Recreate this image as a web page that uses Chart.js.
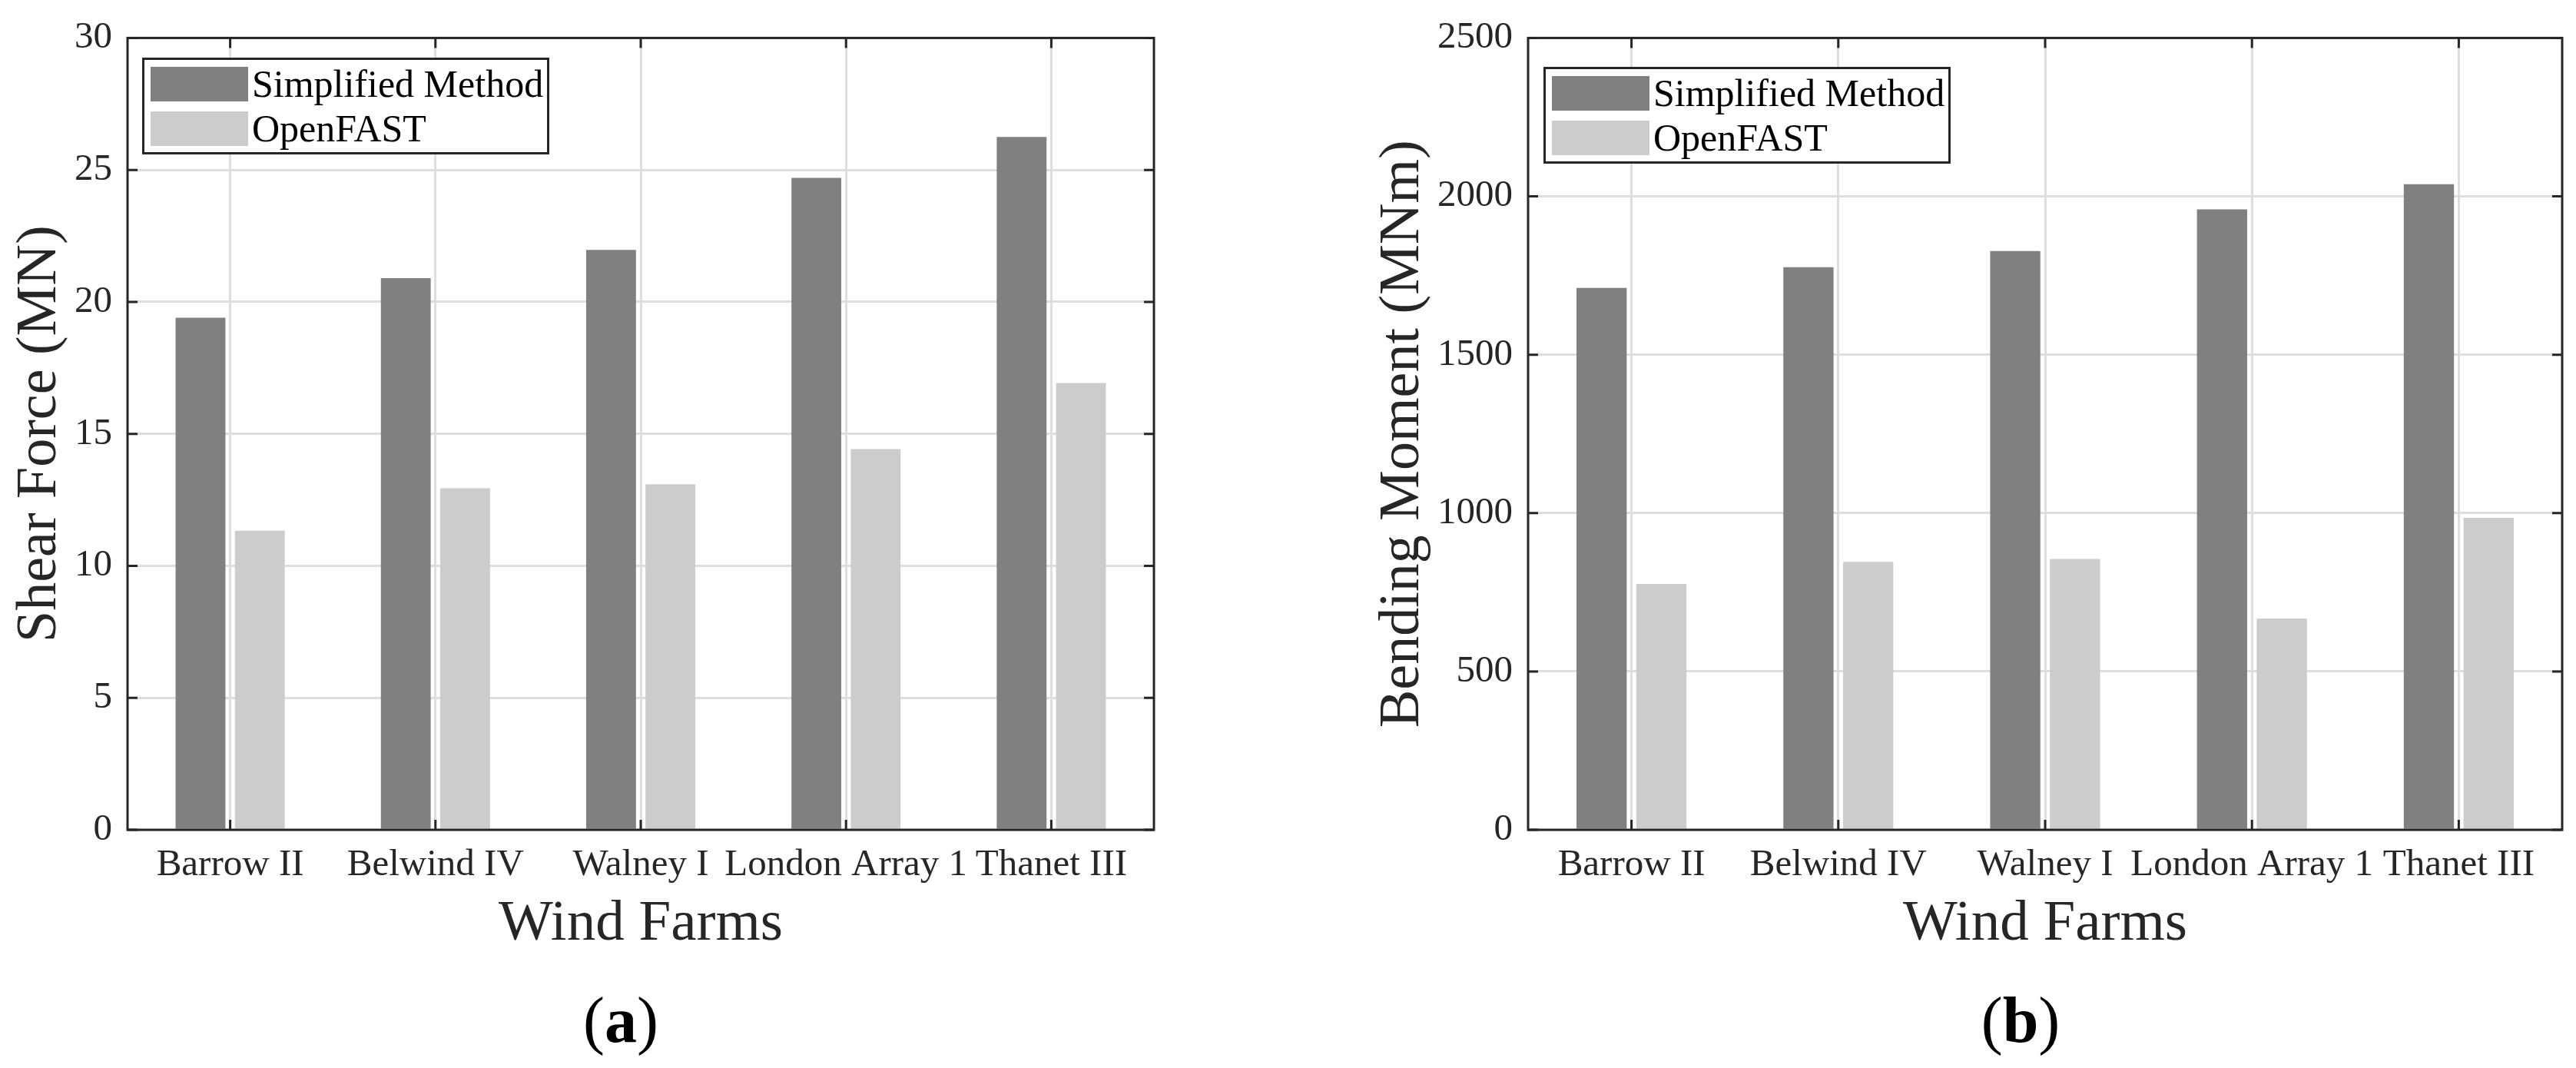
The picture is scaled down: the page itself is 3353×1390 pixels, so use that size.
<!DOCTYPE html>
<html>
<head>
<meta charset="utf-8">
<script src="https://cdn.jsdelivr.net/npm/chart.js@4.4.1/dist/chart.umd.min.js"></script>
<style>
  html, body { margin: 0; padding: 0; background: #fff; }
  body { width: 3353px; height: 1390px; position: relative; overflow: hidden;
         font-family: "Liberation Serif", "Times New Roman", serif; color: #262626; }
  canvas { position: absolute; top: 0; }
  .legend { position: absolute; box-sizing: border-box; width: 530px; height: 126px;
            border: 3px solid #262626; background: #fff; padding: 9px 0 0 8px; z-index: 2; }
  .legend .row { display: flex; align-items: center; height: 45px; margin-bottom: 13px; }
  .legend .sw { width: 127px; height: 45px; margin-right: 5px; }
  .legend .txt { font-size: 50px; line-height: 45px; color: #000; }
  .tag { position: absolute; top: 1286px; font-size: 84px; line-height: 84px;
         transform: translateX(-50%); color: #000; }
</style>
</head>
<body>
<canvas id="shear" width="1600" height="1260" style="left:0px"></canvas>
<canvas id="moment" width="1593" height="1260" style="left:1760px"></canvas>
<div class="legend" id="legShear" style="left:185px; top:75px"></div>
<div class="legend" id="legMoment" style="left:2009px; top:87px"></div>
<div class="tag" style="left:808px">(<b>a</b>)</div>
<div class="tag" style="left:2630px">(<b>b</b>)</div>
<script>
const farms = ['Barrow II', 'Belwind IV', 'Walney I', 'London Array 1', 'Thanet III'];
const seriesNames = ['Simplified Method', 'OpenFAST'];
const seriesColors = ['#808080', '#cccccc'];

// shear force (MN)
const shearSimplified = [19.4, 20.9, 21.97, 24.7, 26.25];
const shearOpenFAST = [11.33, 12.94, 13.09, 14.42, 16.93];
const shearAxis = [0, 30, 5];

// bending moment (MNm)
const momentSimplified = [1711, 1776, 1827, 1959, 2038];
const momentOpenFAST = [776, 846, 855, 667, 985];
const momentAxis = [0, 2500, 500];

const ink = '#262626';

// box round the plot + inward ticks like matlab
const frameTicks = {
  id: 'frameTicks',
  afterDatasetsDraw(chart) {
    const { ctx, chartArea: a, scales: { x, y } } = chart;
    const len = 13;
    ctx.save();
    ctx.strokeStyle = ink;
    ctx.lineWidth = 3;
    ctx.beginPath();
    y.ticks.forEach((t, i) => {
      const py = y.getPixelForTick(i);
      ctx.moveTo(a.left, py); ctx.lineTo(a.left + len, py);
      ctx.moveTo(a.right, py); ctx.lineTo(a.right - len, py);
    });
    x.ticks.forEach((t, i) => {
      const px = x.getPixelForTick(i);
      ctx.moveTo(px, a.bottom); ctx.lineTo(px, a.bottom - len);
      ctx.moveTo(px, a.top); ctx.lineTo(px, a.top + len);
    });
    ctx.stroke();
    ctx.strokeRect(a.left, a.top, a.right - a.left, a.bottom - a.top);
    ctx.restore();
  }
};

function makeChart(id, legendId, simplified, openfast, yTitle, axis, box) {
  const chart = new Chart(document.getElementById(id), {
    type: 'bar',
    data: {
      labels: farms,
      datasets: [simplified, openfast].map((d, i) => ({
        label: seriesNames[i],
        data: d,
        backgroundColor: seriesColors[i],
        borderWidth: 0,
        categoryPercentage: 0.578,
        barPercentage: 0.84
      }))
    },
    options: {
      responsive: false,
      animation: false,
      events: [],
      layout: { padding: { top: 41, right: box.right, left: 0, bottom: 0 } },
      plugins: { legend: { display: false }, tooltip: { enabled: false } },
      scales: {
        x: {
          afterFit(s) { s.height = 180; },
          grid: { offset: false, color: '#dedede', lineWidth: 3, drawTicks: false },
          border: { display: false },
          ticks: { color: ink, font: { family: 'Liberation Serif', size: 49 }, padding: 17,
                   maxRotation: 0, autoSkip: false },
          title: { display: true, text: 'Wind Farms', color: ink,
                   font: { family: 'Liberation Serif', size: 75 }, padding: { top: 0, bottom: 12 } }
        },
        y: {
          min: axis[0], max: axis[1],
          afterFit(s) { s.width = box.yWidth; },
          grid: { color: '#dedede', lineWidth: 3, drawTicks: false },
          border: { display: false },
          ticks: { stepSize: axis[2], color: ink, font: { family: 'Liberation Serif', size: 49 }, padding: 20,
                   format: { useGrouping: false } },
          title: { display: true, text: yTitle, color: ink,
                   font: { family: 'Liberation Serif', size: 74 }, padding: { top: box.titlePad, bottom: 0 } }
        }
      }
    },
    plugins: [frameTicks]
  });

  // legend box inside the axes
  const leg = document.getElementById(legendId);
  chart.data.datasets.forEach(ds => {
    const row = document.createElement('div');
    row.className = 'row';
    row.innerHTML = '<span class="sw" style="background:' + ds.backgroundColor + '"></span>' +
                    '<span class="txt">' + ds.label + '</span>';
    leg.appendChild(row);
  });
  return chart;
}

makeChart('shear', 'legShear', shearSimplified, shearOpenFAST, 'Shear Force (MN)', shearAxis,
          { right: 98, yWidth: 166, titlePad: 8 });
makeChart('moment', 'legMoment', momentSimplified, momentOpenFAST, 'Bending Moment (MNm)', momentAxis,
          { right: 18, yWidth: 229, titlePad: 22 });
</script>
</body>
</html>
